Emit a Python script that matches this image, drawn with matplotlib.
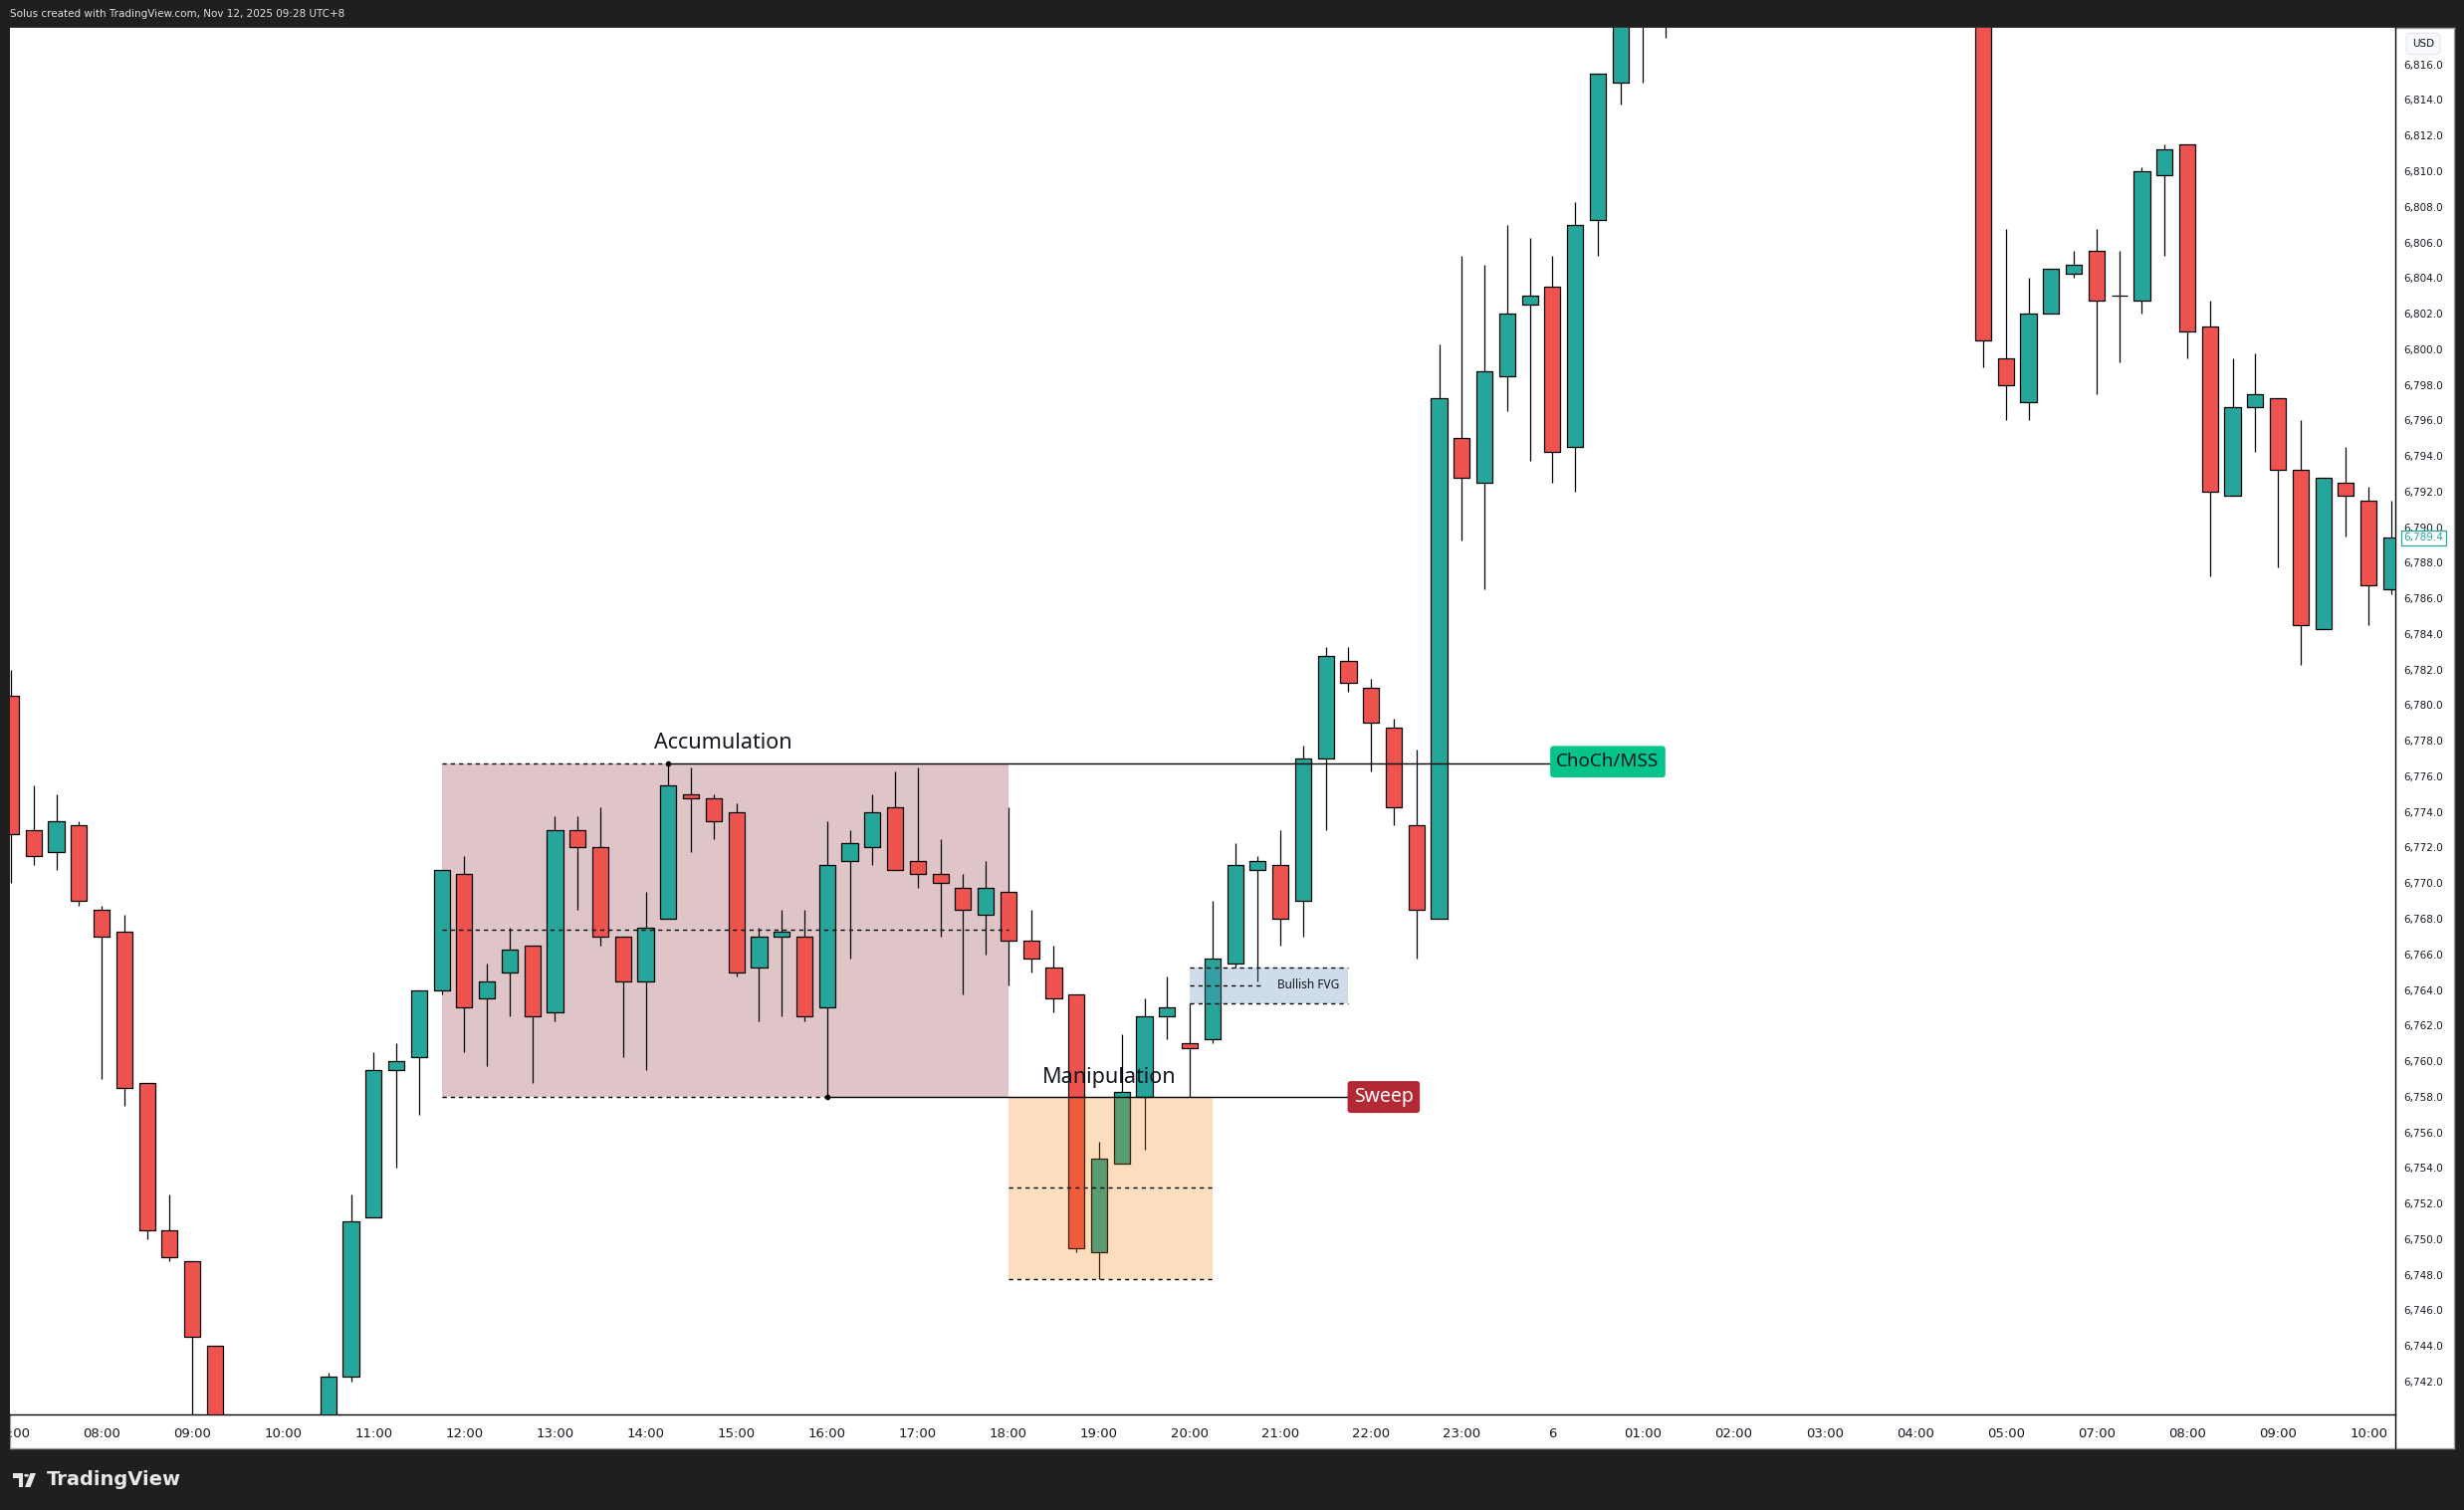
import numpy as np
import matplotlib
matplotlib.use("Agg")
import matplotlib.pyplot as plt
from matplotlib.patches import Rectangle, FancyBboxPatch, Circle, Polygon
from matplotlib.lines import Line2D
import matplotlib.transforms as mtransforms

# 15-minute bars, index 0 = 07:00 on the 5th
opens = [6780.5, 6773.0, 6771.75, 6773.25, 6768.5, 6767.25, 6758.75, 6750.5, 6748.75, 6744.0,
         6737.75, 6735.0, 6737.25, 6738.5, 6739.0, 6742.25, 6751.25, 6759.5, 6760.25, 6764.0,
         6770.5, 6763.5, 6765.0, 6766.5, 6762.75, 6773.0, 6772.0, 6767.0, 6764.5, 6768.0,
         6775.0, 6774.75, 6774.0, 6765.25, 6767.0, 6767.0, 6763.0, 6771.25, 6772.0, 6774.25,
         6771.25, 6770.5, 6769.75, 6768.25, 6769.5, 6766.75, 6765.25, 6763.75, 6749.25, 6754.25,
         6758.0, 6762.5, 6761.0, 6761.25, 6765.5, 6770.75, 6771.0, 6769.0, 6777.0, 6782.5,
         6781.0, 6778.75, 6773.25, 6768.0, 6795.0, 6792.5, 6798.5, 6802.5, 6803.5, 6794.5,
         6807.25, 6815.0, 6821.0, 6823.5, 6824.0, 6825.25, 6826.75, 6825.5, 6826.0, 6828.25,
         6827.5, 6826.25, 6827.0, 6829.5, 6827.75, 6824.5, 6822.25, 6820.75, 6799.5, 6797.0,
         6802.0, 6804.25, 6805.5, 6803.0, 6802.75, 6809.75, 6811.5, 6801.25, 6791.75, 6796.75,
         6797.25, 6793.25, 6784.25, 6792.5, 6791.5, 6786.5]
highs = [6782.0, 6775.5, 6775.0, 6773.5, 6768.75, 6768.25, 6758.75, 6752.5, 6748.75, 6744.0,
         6739.25, 6738.0, 6740.0, 6739.75, 6742.5, 6752.5, 6760.5, 6761.0, 6764.0, 6770.75,
         6771.5, 6765.5, 6767.5, 6766.5, 6773.75, 6773.75, 6774.25, 6767.0, 6769.5, 6776.75,
         6776.5, 6775.0, 6774.5, 6767.5, 6768.5, 6768.5, 6773.5, 6773.0, 6775.0, 6776.25,
         6776.5, 6772.5, 6770.5, 6771.25, 6774.25, 6768.5, 6766.5, 6763.75, 6755.5, 6761.5,
         6763.5, 6764.75, 6763.25, 6769.0, 6772.25, 6771.5, 6773.0, 6777.75, 6783.25, 6783.25,
         6781.5, 6779.25, 6777.5, 6800.25, 6805.25, 6804.75, 6807.0, 6806.25, 6805.25, 6808.25,
         6815.5, 6822.5, 6825.0, 6826.25, 6827.0, 6828.5, 6829.0, 6827.75, 6829.5, 6830.0,
         6829.25, 6828.0, 6830.5, 6831.0, 6829.0, 6826.75, 6824.5, 6821.5, 6806.75, 6804.0,
         6804.5, 6805.5, 6806.75, 6805.5, 6810.25, 6811.5, 6811.5, 6802.75, 6799.5, 6799.75,
         6797.25, 6796.0, 6792.75, 6794.5, 6792.25, 6791.5]
lows = [6770.0, 6771.0, 6770.75, 6768.75, 6759.0, 6757.5, 6750.0, 6748.75, 6739.5, 6735.5,
        6733.5, 6732.75, 6735.5, 6736.25, 6737.75, 6742.0, 6751.25, 6754.0, 6757.0, 6763.75,
        6760.5, 6759.75, 6762.5, 6758.75, 6762.25, 6768.5, 6766.5, 6760.25, 6759.5, 6768.0,
        6771.75, 6772.5, 6764.75, 6762.25, 6762.5, 6762.25, 6758.0, 6765.75, 6771.0, 6770.75,
        6769.75, 6767.0, 6763.75, 6766.0, 6764.25, 6765.0, 6762.75, 6749.25, 6747.75, 6754.25,
        6755.0, 6761.25, 6758.0, 6761.0, 6765.25, 6764.5, 6766.5, 6767.0, 6773.0, 6780.75,
        6776.25, 6773.25, 6765.75, 6768.0, 6789.25, 6786.5, 6796.5, 6793.75, 6792.5, 6792.0,
        6805.25, 6813.75, 6815.0, 6817.5, 6821.5, 6823.0, 6824.5, 6822.75, 6824.75, 6826.0,
        6825.5, 6824.0, 6825.75, 6826.5, 6823.5, 6821.0, 6818.25, 6799.0, 6796.0, 6796.0,
        6802.0, 6804.0, 6797.5, 6799.25, 6802.0, 6805.25, 6799.5, 6787.25, 6791.75, 6794.25,
        6787.75, 6782.25, 6784.25, 6789.5, 6784.5, 6786.25]
closes = [6772.75, 6771.5, 6773.5, 6769.0, 6767.0, 6758.5, 6750.5, 6749.0, 6744.5, 6737.75,
          6735.0, 6737.25, 6738.5, 6739.0, 6742.25, 6751.0, 6759.5, 6760.0, 6764.0, 6770.75,
          6763.0, 6764.5, 6766.25, 6762.5, 6773.0, 6772.0, 6767.0, 6764.5, 6767.5, 6775.5,
          6774.75, 6773.5, 6765.0, 6767.0, 6767.25, 6762.5, 6771.0, 6772.25, 6774.0, 6770.75,
          6770.5, 6770.0, 6768.5, 6769.75, 6766.75, 6765.75, 6763.5, 6749.5, 6754.5, 6758.25,
          6762.5, 6763.0, 6760.75, 6765.75, 6771.0, 6771.25, 6768.0, 6777.0, 6782.75, 6781.25,
          6779.0, 6774.25, 6768.5, 6797.25, 6792.75, 6798.75, 6802.0, 6803.0, 6794.25, 6807.0,
          6815.5, 6821.0, 6823.5, 6824.0, 6825.25, 6826.75, 6825.5, 6826.0, 6828.25, 6827.5,
          6826.25, 6827.0, 6829.5, 6827.75, 6824.5, 6822.25, 6820.75, 6800.5, 6798.0, 6802.0,
          6804.5, 6804.75, 6802.75, 6803.0, 6810.0, 6811.25, 6801.0, 6792.0, 6796.75, 6797.5,
          6793.25, 6784.5, 6792.75, 6791.75, 6786.75, 6789.4]

time_ticks = [0, 4, 8, 12, 16, 20, 24, 28, 32, 36, 40, 44, 48, 52, 56, 60, 64, 68,
              72, 76, 80, 84, 88, 92, 96, 100, 104]
time_labels = ["07:00", "08:00", "09:00", "10:00", "11:00", "12:00", "13:00", "14:00",
               "15:00", "16:00", "17:00", "18:00", "19:00", "20:00", "21:00", "22:00",
               "23:00", "6", "01:00", "02:00", "03:00", "04:00", "05:00", "07:00",
               "08:00", "09:00", "10:00"]
price_ticks = [6742, 6744, 6746, 6748, 6750, 6752, 6754, 6756, 6758, 6760, 6762, 6764,
               6766, 6768, 6770, 6772, 6774, 6776, 6778, 6780, 6782, 6784, 6786, 6788,
               6790, 6792, 6794, 6796, 6798, 6800, 6802, 6804, 6806, 6808, 6810, 6812,
               6814, 6816]

# zones (bar index / price)
accum_start, accum_end = 19, 44
accum_top, accum_bot = 6776.75, 6758.0
accum_high_bar, accum_low_bar = 29, 36
manip_start, manip_end = 44, 53
manip_top, manip_bot = 6758.0, 6747.75
fvg_start, fvg_end = 52, 59
fvg_top, fvg_bot = 6765.25, 6763.25
last_price = 6789.4

W, H = 2475, 1517
BG = "#1f1f1f"
UP, DOWN = "#26a69a", "#ef5350"
TXT = "#131722"


def fx(px):
    return px / W


def fy(py):
    return 1 - py / H


fig = plt.figure(figsize=(W / 100, H / 100), dpi=100, facecolor=BG)

# white panel behind plot and both axis strips
panel = fig.add_axes([fx(10), fy(1455), fx(2465) - fx(10), fy(27.7) - fy(1455)], zorder=0)
panel.set_facecolor("white")
panel.set_xticks([])
panel.set_yticks([])
for s in panel.spines.values():
    s.set_color("#a0a0a0")
    s.set_linewidth(1)

ax = fig.add_axes([fx(10), fy(1421), fx(2406) - fx(10), fy(27.7) - fy(1421)], zorder=1)
ax.set_facecolor("white")
ax.set_xlim(-0.044, 105.18)
ax.set_ylim(6740.15, 6818.07)
for side in ["top", "left"]:
    ax.spines[side].set_visible(False)
for side in ["right", "bottom"]:
    ax.spines[side].set_color("black")
    ax.spines[side].set_linewidth(1)
fig.add_artist(Line2D([fx(2406), fx(2406)], [fy(1421), fy(1455)], color="black", lw=1))

# candles
o = np.array(opens)
h = np.array(highs)
l = np.array(lows)
c = np.array(closes)
x = np.arange(len(o))
cols = [UP if cc >= oo else DOWN for oo, cc in zip(o, c)]
ax.vlines(x, l, h, color="black", lw=0.9, zorder=3)
ax.bar(x, np.abs(c - o), bottom=np.minimum(o, c), width=0.71, color=cols,
       edgecolor="black", linewidth=0.9, zorder=4)

# accumulation range
ax.add_patch(Rectangle((accum_start, accum_bot), accum_end - accum_start, accum_top - accum_bot,
                       facecolor="#dfc4c8", edgecolor="none", zorder=1))
dash = (0, (3, 3))
accum_mid = (accum_top + accum_bot) / 2
ax.hlines([accum_top], accum_start, accum_high_bar, colors="black", linestyles=dash, lw=1, zorder=6)
ax.hlines([accum_bot], accum_start, accum_low_bar, colors="black", linestyles=dash, lw=1, zorder=6)
ax.hlines([accum_mid], accum_start, accum_end, colors="black", linestyles=dash, lw=1, zorder=6)
ax.hlines([accum_top], accum_high_bar, 67.9, colors="black", lw=1, zorder=6)
ax.hlines([accum_bot], accum_low_bar, 58.96, colors="black", lw=1, zorder=6)
ax.plot([accum_high_bar, accum_low_bar], [accum_top, accum_bot], "o", color="black", ms=3, zorder=7)
ax.text(31.4, 6777.85, "Accumulation", ha="center", va="center",
        fontsize=15.5, family="Noto Sans", color=TXT, zorder=8)

# manipulation zone (drawn over the candles)
ax.add_patch(Rectangle((manip_start, manip_bot), manip_end - manip_start, manip_top - manip_bot,
                       facecolor="#f57c00", alpha=0.25, edgecolor="none", zorder=5))
manip_mid = (manip_top + manip_bot) / 2
ax.hlines([manip_bot, manip_mid], manip_start, manip_end, colors="black", linestyles=dash,
          lw=1, zorder=6)
ax.text(48.44, 6759.1, "Manipulation", ha="center", va="center", fontsize=15.5,
        family="Noto Sans", color=TXT, zorder=8)

# bullish FVG
ax.add_patch(Rectangle((fvg_start, fvg_bot), fvg_end - fvg_start, fvg_top - fvg_bot,
                       facecolor="#5d8fb8", alpha=0.3, edgecolor="none", zorder=5))
fvg_mid = (fvg_top + fvg_bot) / 2
ax.hlines([fvg_top, fvg_bot], fvg_start, fvg_end, colors="black", linestyles=dash, lw=1, zorder=6)
ax.hlines([fvg_mid], fvg_start, 55.3, colors="black", linestyles=dash, lw=1, zorder=6)
ax.text(58.6, fvg_mid + 0.05, "Bullish FVG", ha="right", va="center", fontsize=8.5,
        family="Noto Sans", weight="bold", color=TXT, zorder=8)

# labels at the end of the lines
asp = 22.77 / 17.88
ax.add_patch(FancyBboxPatch((67.9, 6775.94), 5.08, 1.77,
                            boxstyle="round,pad=0,rounding_size=0.15", mutation_aspect=asp,
                            facecolor="#05c48a", edgecolor="none", zorder=8))
ax.text(70.44, 6776.85, "ChoCh/MSS", ha="center", va="center", fontsize=13.5,
        family="Noto Sans", color=TXT, zorder=9)
ax.add_patch(FancyBboxPatch((58.96, 6757.09), 3.19, 1.79,
                            boxstyle="round,pad=0,rounding_size=0.15", mutation_aspect=asp,
                            facecolor="#b22833", edgecolor="none", zorder=8))
ax.text(60.56, 6758.0, "Sweep", ha="center", va="center", fontsize=14,
        family="Noto Sans", color="white", zorder=9)

# axes ticks
ax.set_xticks(time_ticks)
ax.set_xticklabels(time_labels, family=["Liberation Sans Narrow", "DejaVu Sans"],
                   fontsize=9.5, color=TXT)
ax.yaxis.tick_right()
ax.set_yticks(price_ticks)
ax.set_yticklabels([f"{p:,.1f}" for p in price_ticks], family="DejaVu Sans",
                   fontsize=7.5, color=TXT)
ax.tick_params(axis="x", length=0, pad=9)
ax.tick_params(axis="y", length=0, pad=6)

# last price tag
tr = mtransforms.blended_transform_factory(ax.transAxes, ax.transData)
ax.text(1.0035, last_price, f"{last_price:,.1f}", transform=tr, ha="left", va="center",
        fontsize=7.5, family="DejaVu Sans", color=UP, zorder=10, clip_on=False,
        bbox=dict(boxstyle="square,pad=0.25", facecolor="white", edgecolor=UP, lw=0.9))

# USD badge
fig.text(fx(2434), fy(44), "USD", ha="center", va="center", fontsize=7.5, color=TXT,
         family="DejaVu Sans", zorder=10,
         bbox=dict(boxstyle="round,pad=0.55,rounding_size=0.4", facecolor="#f7f8fa",
                   edgecolor="#e4e6eb", lw=0.8))

# dark frame on the left edge (hides clipped first label)
fig.add_artist(Rectangle((0, 0), fx(10), 1, transform=fig.transFigure, facecolor=BG,
                         edgecolor="none", zorder=20))

# header and logo
fig.text(fx(10), fy(14), "Solus created with TradingView.com, Nov 12, 2025 09:28 UTC+8",
         ha="left", va="center", fontsize=7.5, color="#e0e0e0", family="DejaVu Sans")
logo_col = "#e8e8e8"
fig.add_artist(Polygon([(fx(13), fy(1480)), (fx(23), fy(1480)), (fx(23), fy(1494)),
                        (fx(18.5), fy(1494)), (fx(18.5), fy(1484.5)), (fx(13), fy(1484.5))],
                       closed=True, transform=fig.transFigure, facecolor=logo_col,
                       edgecolor="none"))
fig.add_artist(Circle((fx(26.5), fy(1482.3)), 2.3 / W, transform=fig.transFigure,
                      facecolor=logo_col, edgecolor="none"))
fig.add_artist(Polygon([(fx(30.5), fy(1480)), (fx(36), fy(1480)), (fx(30.5), fy(1494)),
                        (fx(25), fy(1494))], closed=True, transform=fig.transFigure,
                       facecolor=logo_col, edgecolor="none"))
fig.text(fx(47), fy(1487), "TradingView", ha="left", va="center", fontsize=14,
         color=logo_col, family=["Liberation Sans Narrow", "DejaVu Sans"], weight="bold")

fig.savefig("out.png", dpi=100, facecolor=BG)
